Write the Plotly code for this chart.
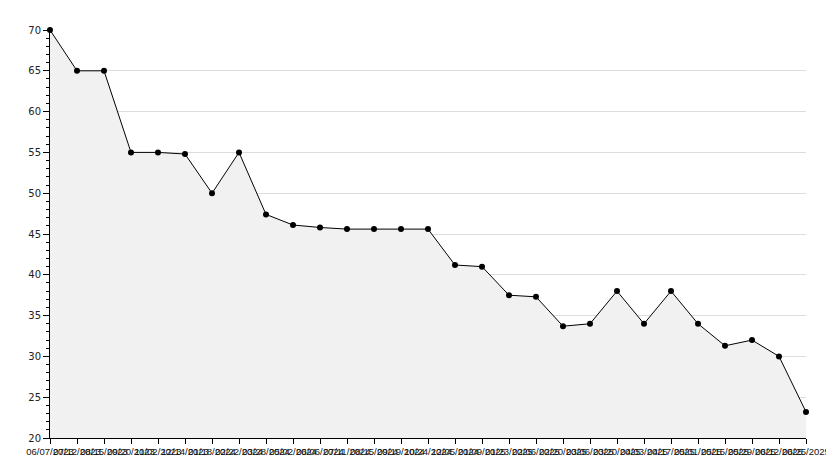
import plotly.graph_objects as go

dates = [
    "06/07/2023", "07/12/2023", "08/15/2023", "09/20/2023", "11/02/2023",
    "12/14/2023", "01/18/2024", "02/22/2024", "03/28/2024", "05/02/2024",
    "06/06/2024", "07/11/2024", "08/15/2024", "09/19/2024", "10/24/2024",
    "12/05/2024", "01/09/2025", "01/23/2025", "02/06/2025", "02/20/2025",
    "03/06/2025", "03/20/2025", "04/03/2025", "04/17/2025", "05/01/2025",
    "05/15/2025", "05/29/2025", "06/12/2025", "06/25/2025",
]
values = [
    70, 65, 65, 55, 55, 54.8, 50, 55, 47.4, 46.1, 45.8, 45.6, 45.6, 45.6, 45.6,
    41.2, 41.0, 37.5, 37.3, 33.7, 34.0, 38.0, 34.0, 38.0, 34.0, 31.3, 32.0, 30.0, 23.2,
]
y_ticks = [20, 25, 30, 35, 40, 45, 50, 55, 60, 65, 70]

fig = go.Figure()
fig.add_trace(go.Scatter(
    x=dates, y=values, mode="lines+markers",
    fill="tozeroy", fillcolor="#f1f1f1",
    line=dict(color="black", width=1),
    marker=dict(color="black", size=6, symbol="circle"),
    cliponaxis=False,
))
yfont = dict(family="DejaVu Sans", size=10, color="#222222")
xfont = dict(family="Liberation Sans", size=9.5, color="#111111")
fig.update_layout(
    width=834, height=468,
    margin=dict(l=42, r=36, t=22, b=38, autoexpand=False),
    paper_bgcolor="white", plot_bgcolor="white",
    showlegend=False,
    font=yfont,
)
fig.update_xaxes(
    type="category", range=[0, len(dates) - 1], automargin=False,
    tickmode="array", tickvals=dates, ticktext=dates, tickangle=0,
    ticks="outside", ticklen=5, tickcolor="black",
    showline=True, linecolor="black", linewidth=1,
    showgrid=False, zeroline=False, tickfont=xfont,
)
fig.update_yaxes(
    range=[20, 70], tickvals=y_ticks, automargin=False,
    ticks="outside", ticklen=6, tickcolor="black",
    minor=dict(dtick=1, ticks="outside", ticklen=3, tickcolor="black", showgrid=False),
    showline=True, linecolor="black", linewidth=1,
    showgrid=True, gridcolor="#dddddd", zeroline=False, tickfont=yfont,
)
fig.write_html("out.html")
